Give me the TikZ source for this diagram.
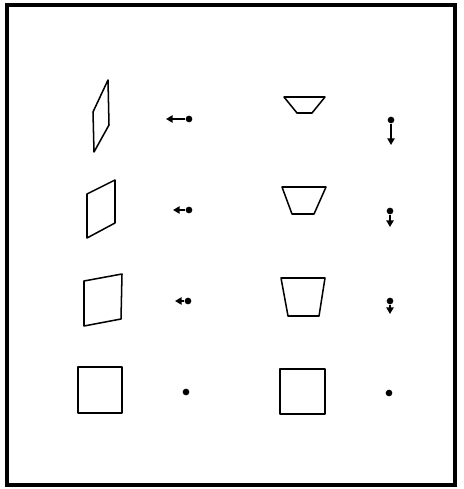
\documentclass[tikz,border=0pt]{standalone}
\usetikzlibrary{arrows.meta}
\tikzset{
  frame/.style={draw, line width=3pt},
  quad/.style={draw, line width=1.3pt, line join=round},
  vec/.style={-{Triangle[length=2mm, width=2.2mm]}, line width=1.3pt},
  tail/.style={fill, circle, inner sep=0pt, minimum size=2mm}}
\begin{document}
\begin{tikzpicture}[x=0.03cm, y=-0.03cm]
  \useasboundingbox (0,0) rectangle (463,489);
  \fill[white] (0,0) rectangle (463,489);
  \draw[frame] (7,5) rectangle (455,485);
  % left column: sheared squares and their vectors
  \draw[quad] (108,80) -- (93,112) -- (94,152) -- (109,125) -- cycle;
  \draw[quad] (87,194) -- (115,180) -- (115,223) -- (87,238) -- cycle;
  \draw[quad] (84,281) -- (122,274) -- (121,319) -- (84,326) -- cycle;
  \draw[quad] (78,367) rectangle (122,413);
  \node[tail] (la) at (189,119) {}; \coordinate (lat) at (166,119);
  \node[tail] (lb) at (189,210) {}; \coordinate (lbt) at (173,210);
  \node[tail] (lc) at (188,301) {}; \coordinate (lct) at (175,301);
  \node[tail] (ld) at (186,392) {};
  \draw[vec] (la) -- (lat); \draw[vec] (lb) -- (lbt); \draw[vec] (lc) -- (lct);
  % right column: tapered squares and their vectors
  \draw[quad] (284,97) -- (325,97) -- (312,113) -- (297,113) -- cycle;
  \draw[quad] (282,187) -- (326,187) -- (314,214) -- (292,214) -- cycle;
  \draw[quad] (281,278) -- (325,278) -- (319,316) -- (288,316) -- cycle;
  \draw[quad] (280,369) rectangle (325,414);
  \node[tail] (ra) at (391,120) {}; \coordinate (rat) at (391,145);
  \node[tail] (rb) at (390,211) {}; \coordinate (rbt) at (390,227);
  \node[tail] (rc) at (390,301) {}; \coordinate (rct) at (390,314);
  \node[tail] (rd) at (389,393) {};
  \draw[vec] (ra) -- (rat); \draw[vec] (rb) -- (rbt); \draw[vec] (rc) -- (rct);
\end{tikzpicture}
\end{document}
